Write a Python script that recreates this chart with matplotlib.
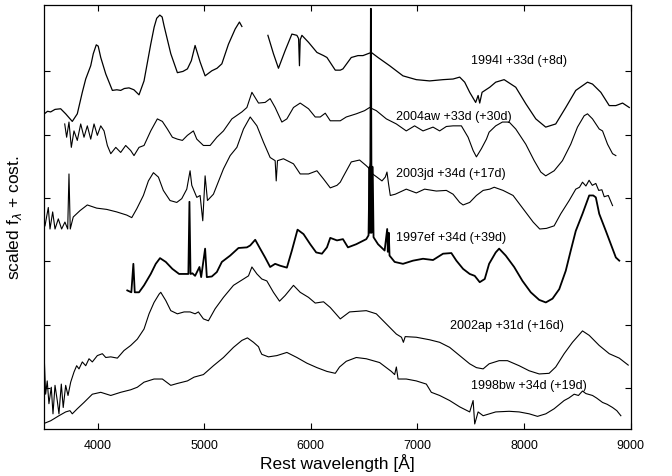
import numpy as np
import matplotlib.pyplot as plt

plt.rcParams['font.family'] = ['Liberation Sans', 'DejaVu Sans']

# ---------- spectra (rest wavelength in A, scaled flux + offset) ----------
nan = np.nan

wl_94I = [3500, 3530, 3559, 3600, 3653, 3700, 3762, 3809, 3856, 3888, 3935, 3959, 3987, 4005,
          4029, 4076, 4138, 4180, 4216, 4250, 4294, 4340, 4388, 4435, 4498, 4530, 4554, 4583,
          4605, 4623, 4686, 4748, 4800, 4842, 4879, 4914, 4961, 5008, 5071, 5120, 5165, 5227,
          5290, 5330, 5353, 5450,
          5597, 5649, 5696, 5759, 5822, 5869, 5885, 5893, 5900, 5916, 5978, 6057, 6119, 6151,
          6229, 6276, 6301, 6379, 6442, 6489, 6567, 6630, 6739, 6864, 6989, 7114, 7240, 7334,
          7396, 7443, 7490, 7546, 7569, 7584, 7606, 7678, 7734, 7813, 7922, 8016, 8110, 8203,
          8297, 8391, 8485, 8595, 8642, 8720, 8799, 8861, 8924, 8987]
fl_94I = [5.33, 5.37, 5.36, 5.40, 5.41, 5.33, 5.21, 5.33, 5.67, 5.88, 6.09, 6.28, 6.42, 6.40,
          6.22, 5.96, 5.70, 5.71, 5.70, 5.73, 5.74, 5.71, 5.63, 5.85, 6.43, 6.70, 6.84, 6.89,
          6.86, 6.72, 6.28, 5.98, 6.00, 6.04, 6.17, 6.41, 6.15, 5.93, 6.01, 6.05, 6.12, 6.43,
          6.67, 6.78, 6.71, nan,
          6.57, 6.28, 6.05, 6.33, 6.59, 6.57, 6.52, 6.09, 6.50, 6.57, 6.46, 6.30, 6.25, 6.22,
          6.02, 6.02, 6.04, 6.22, 6.25, 6.25, 6.30, 6.22, 6.09, 5.93, 5.87, 5.85, 5.87, 5.88,
          5.91, 5.83, 5.67, 5.51, 5.62, 5.50, 5.67, 5.75, 5.83, 5.87, 5.75, 5.49, 5.25, 5.12,
          5.17, 5.43, 5.70, 5.83, 5.80, 5.67, 5.46, 5.46, 5.50, 5.43]

wl_04aw = [3691, 3709, 3731, 3753, 3778, 3809, 3841, 3872, 3903, 3935, 3966, 3997, 4029, 4060,
           4091, 4123, 4170, 4216, 4263, 4310, 4341, 4388, 4435, 4498, 4560, 4607, 4654, 4701,
           4748, 4795, 4842, 4898, 4930, 4992, 5055, 5118, 5180, 5259, 5353, 5400, 5447, 5509,
           5571, 5618, 5665, 5728, 5775, 5837, 5900, 5978, 6041, 6088, 6135, 6182, 6276, 6332,
           6426, 6504, 6551, 6614, 6708, 6802, 6895, 6973, 7052, 7146, 7208, 7271, 7334, 7412,
           7475, 7522, 7553, 7600, 7647, 7672, 7734, 7797, 7860, 7922, 8016, 8095, 8157, 8203,
           8282, 8360, 8438, 8501, 8564, 8595, 8642, 8705, 8736, 8783, 8830, 8861]
fl_04aw = [5.17, 4.96, 5.20, 4.80, 5.06, 4.91, 5.17, 4.96, 5.14, 4.93, 5.17, 4.99, 5.14, 5.06,
           4.83, 4.70, 4.80, 4.72, 4.83, 4.75, 4.67, 4.80, 4.83, 5.06, 5.25, 5.21, 5.09, 4.96,
           4.93, 4.91, 4.99, 5.06, 4.93, 4.83, 4.83, 4.96, 5.06, 5.25, 5.36, 5.43, 5.67, 5.50,
           5.51, 5.57, 5.43, 5.20, 5.25, 5.43, 5.50, 5.41, 5.28, 5.28, 5.34, 5.22, 5.22, 5.28,
           5.33, 5.38, 5.43, 5.38, 5.25, 5.17, 5.06, 5.14, 5.06, 5.12, 5.06, 5.13, 5.14, 5.14,
           4.96, 4.75, 4.65, 4.78, 4.93, 5.04, 5.14, 5.20, 5.20, 5.09, 4.85, 4.59, 4.41, 4.35,
           4.43, 4.59, 4.85, 5.12, 5.30, 5.33, 5.25, 5.09, 5.06, 4.85, 4.70, 4.67]

wl_03jd = [3506, 3537, 3553, 3578, 3600, 3631, 3662, 3693, 3719, 3731, 3743, 3771, 3834, 3903,
           3991, 4085, 4179, 4273, 4320, 4367, 4429, 4476, 4523, 4570, 4616, 4679, 4742, 4789,
           4836, 4867, 4883, 4930, 4961, 4986, 5008, 5030, 5086, 5180, 5243, 5306, 5368, 5431,
           5494, 5556, 5618, 5665, 5675, 5687, 5743, 5837, 5900, 5978, 6057, 6119, 6182, 6245,
           6276, 6301, 6379, 6457, 6520, 6551, 6563, 6579, 6620, 6667, 6698, 6714, 6729, 6745,
           6792, 6895, 6989, 7067, 7177, 7271, 7334, 7396, 7428, 7490, 7553, 7616, 7678, 7720,
           7803, 7897, 7991, 8085, 8147, 8210, 8282, 8344, 8423, 8485, 8520, 8548, 8580, 8610,
           8640, 8673, 8700, 8730, 8752, 8790, 8830]
fl_03jd = [3.56, 3.85, 3.51, 3.78, 3.51, 3.67, 3.51, 3.62, 3.51, 4.38, 3.51, 3.70, 3.80, 3.89,
           3.84, 3.82, 3.78, 3.73, 3.69, 3.83, 4.04, 4.27, 4.40, 4.33, 4.12, 3.96, 3.93, 3.99,
           4.14, 4.43, 4.20, 4.01, 4.04, 3.64, 4.35, 3.96, 4.06, 4.46, 4.67, 4.80, 5.09, 5.28,
           5.14, 4.88, 4.64, 4.59, 4.27, 4.59, 4.62, 4.54, 4.38, 4.38, 4.43, 4.30, 4.16, 4.20,
           4.25, 4.33, 4.57, 4.60, 4.51, 4.46, 4.60, 4.38, 4.33, 4.27, 4.33, 4.41, 4.22, 4.04,
           4.06, 4.14, 4.08, 4.14, 4.11, 4.12, 4.06, 3.93, 3.89, 3.93, 4.04, 4.12, 4.14, 4.17,
           4.12, 4.04, 3.83, 3.62, 3.51, 3.52, 3.56, 3.75, 3.96, 4.14, 4.17, 4.25, 4.19, 4.28,
           4.20, 4.23, 4.12, 4.13, 4.02, 4.04, 3.88]

wl_97ef = [4278, 4316, 4335, 4348, 4388, 4435, 4498, 4545, 4585, 4639, 4701, 4764, 4827, 4851,
           4861, 4871, 4889, 4914, 4955, 4971, 5008, 5024, 5071, 5118, 5165, 5243, 5321, 5400,
           5431, 5478, 5524, 5571, 5618, 5665, 5712, 5775, 5822, 5875, 5931, 5994, 6050, 6104,
           6151, 6182, 6245, 6301, 6348, 6426, 6520, 6541, 6550, 6556, 6563, 6570, 6580, 6588,
           6630, 6692, 6716, 6722, 6731, 6738, 6786, 6864, 6958, 7052, 7146, 7240, 7318, 7365,
           7428, 7490, 7537, 7584, 7631, 7672, 7734, 7766, 7828, 7907, 7985, 8063, 8142, 8204,
           8267, 8330, 8391, 8438, 8485, 8548, 8611, 8649, 8673, 8705, 8767, 8814, 8861, 8893]
fl_97ef = [2.54, 2.51, 2.96, 2.51, 2.51, 2.62, 2.80, 2.96, 3.05, 2.99, 2.88, 2.80, 2.80, 2.80,
           3.94, 2.80, 2.81, 2.77, 2.91, 2.75, 3.20, 2.75, 2.76, 2.83, 2.99, 3.09, 3.21, 3.22,
           3.25, 3.34, 3.20, 3.06, 2.91, 2.96, 2.93, 2.90, 3.17, 3.50, 3.43, 3.27, 3.14, 3.12,
           3.22, 3.37, 3.33, 3.35, 3.22, 3.27, 3.35, 3.41, 4.49, 3.45, 6.99, 3.45, 4.49, 3.38,
           3.27, 3.17, 3.51, 3.15, 3.45, 3.09, 2.99, 2.96, 3.01, 3.04, 3.02, 3.12, 3.13, 3.01,
           2.88, 2.80, 2.77, 2.67, 2.72, 2.96, 3.14, 3.20, 3.09, 2.91, 2.69, 2.51, 2.39, 2.35,
           2.41, 2.56, 2.85, 3.17, 3.48, 3.75, 4.04, 4.04, 4.01, 3.75, 3.48, 3.27, 3.06, 3.01]

wl_02ap = [3500, 3512, 3527, 3543, 3565, 3581, 3600, 3621, 3637, 3659, 3677, 3700, 3722, 3747,
           3778, 3803, 3825, 3856, 3888, 3919, 3950, 3997, 4044, 4076, 4123, 4185, 4247, 4310,
           4372, 4435, 4482, 4529, 4576, 4592, 4639, 4686, 4748, 4811, 4867, 4914, 4945, 4992,
           5039, 5102, 5180, 5274, 5368, 5415, 5447, 5494, 5540, 5587, 5649, 5706, 5759, 5837,
           5900, 5978, 6041, 6119, 6182, 6276, 6363, 6520, 6614, 6708, 6802, 6850, 6868, 6885,
           6989, 7114, 7208, 7302, 7396, 7490, 7553, 7616, 7672, 7766, 7844, 7954, 8048, 8142,
           8235, 8297, 8376, 8454, 8548, 8611, 8705, 8799, 8893, 8977]
fl_02ap = [1.43, 0.90, 1.11, 0.75, 1.01, 0.59, 1.04, 0.80, 0.59, 1.06, 0.69, 1.04, 0.88, 1.09,
           1.25, 1.35, 1.30, 1.41, 1.35, 1.46, 1.41, 1.51, 1.54, 1.48, 1.49, 1.47, 1.59, 1.67,
           1.77, 1.93, 2.17, 2.35, 2.48, 2.51, 2.38, 2.22, 2.17, 2.20, 2.20, 2.17, 2.20, 2.09,
           2.06, 2.25, 2.43, 2.62, 2.72, 2.77, 2.91, 2.80, 2.72, 2.69, 2.51, 2.37, 2.46, 2.62,
           2.51, 2.43, 2.34, 2.36, 2.27, 2.09, 2.20, 2.22, 2.17, 2.01, 1.85, 1.80, 1.72, 1.81,
           1.80, 1.76, 1.72, 1.64, 1.51, 1.38, 1.32, 1.30, 1.38, 1.43, 1.43, 1.35, 1.27, 1.22,
           1.23, 1.33, 1.54, 1.72, 1.90, 1.83, 1.67, 1.54, 1.47, 1.36]

wl_98bw = [3500, 3559, 3637, 3700, 3740, 3762, 3809, 3872, 3950, 4029, 4123, 4216, 4310, 4372,
           4435, 4529, 4607, 4686, 4748, 4842, 4905, 4992, 5086, 5180, 5274, 5353, 5405, 5462,
           5509, 5525, 5540, 5602, 5681, 5775, 5869, 5963, 6057, 6151, 6229, 6269, 6332, 6426,
           6520, 6645, 6755, 6786, 6802, 6818, 6895, 6989, 7083, 7130, 7208, 7302, 7396, 7490,
           7522, 7537, 7569, 7616, 7734, 7860, 7954, 8048, 8126, 8204, 8282, 8376, 8420, 8470,
           8510, 8548, 8580, 8642, 8680, 8736, 8780, 8830, 8870, 8908]
fl_98bw = [0.44, 0.48, 0.56, 0.62, 0.64, 0.59, 0.67, 0.77, 0.90, 0.93, 0.88, 0.93, 0.97, 1.01,
           1.09, 1.14, 1.14, 1.04, 1.07, 1.11, 1.17, 1.21, 1.35, 1.48, 1.64, 1.75, 1.79, 1.72,
           1.65, 1.58, 1.53, 1.49, 1.51, 1.56, 1.48, 1.39, 1.32, 1.26, 1.23, 1.33, 1.42, 1.48,
           1.46, 1.40, 1.26, 1.21, 1.33, 1.14, 1.14, 1.11, 1.06, 0.93, 0.88, 0.80, 0.70, 0.62,
           0.80, 0.43, 0.62, 0.56, 0.62, 0.63, 0.62, 0.59, 0.55, 0.59, 0.67, 0.80, 0.84, 0.90,
           0.88, 0.95, 0.91, 0.88, 0.84, 0.77, 0.74, 0.69, 0.64, 0.56]

# labels: name, wavelength and flux of the left edge of the text
labels = ['1994I +33d (+8d)', '2004aw +33d (+30d)', '2003jd +34d (+17d)',
          '1997ef +34d (+39d)', '2002ap +31d (+16d)', '1998bw +34d (+19d)']
label_wl = [7506, 6801, 6801, 6801, 7302, 7506]
label_fl = [6.18, 5.30, 4.40, 3.38, 1.99, 1.05]

fig = plt.figure(figsize=(6.72, 4.77), dpi=100)
ax = fig.add_axes([0.066, 0.0985, 0.8725, 0.889])

ax.plot(wl_94I, fl_94I, color='black', lw=0.9)
ax.plot(wl_04aw, fl_04aw, color='black', lw=0.8)
ax.plot(wl_03jd, fl_03jd, color='black', lw=0.8)
ax.plot(wl_97ef, fl_97ef, color='black', lw=1.3)
ax.plot(wl_02ap, fl_02ap, color='black', lw=0.8)
ax.plot(wl_98bw, fl_98bw, color='black', lw=0.8)

for t, x, y in zip(labels, label_wl, label_fl):
    ax.text(x, y, t, fontsize=9, va='center', ha='left')

ax.set_xlim(3500, 9000)
ax.set_ylim(0.35, 7.05)
ax.set_xticks([4000, 5000, 6000, 7000, 8000, 9000])
ax.set_yticks([1, 2, 3, 4, 5, 6])
ax.set_yticklabels([])
ax.tick_params(direction='in', length=4, top=True, right=True, labelsize=9, pad=7)
for s in ax.spines.values():
    s.set_linewidth(0.9)

ax.set_xlabel('Rest wavelength [Å]', fontsize=12.5, labelpad=2)
ax.set_ylabel(r'scaled f$_\lambda$ + cost.', fontsize=12.5, labelpad=8)

plt.savefig('out.png', dpi=100)
